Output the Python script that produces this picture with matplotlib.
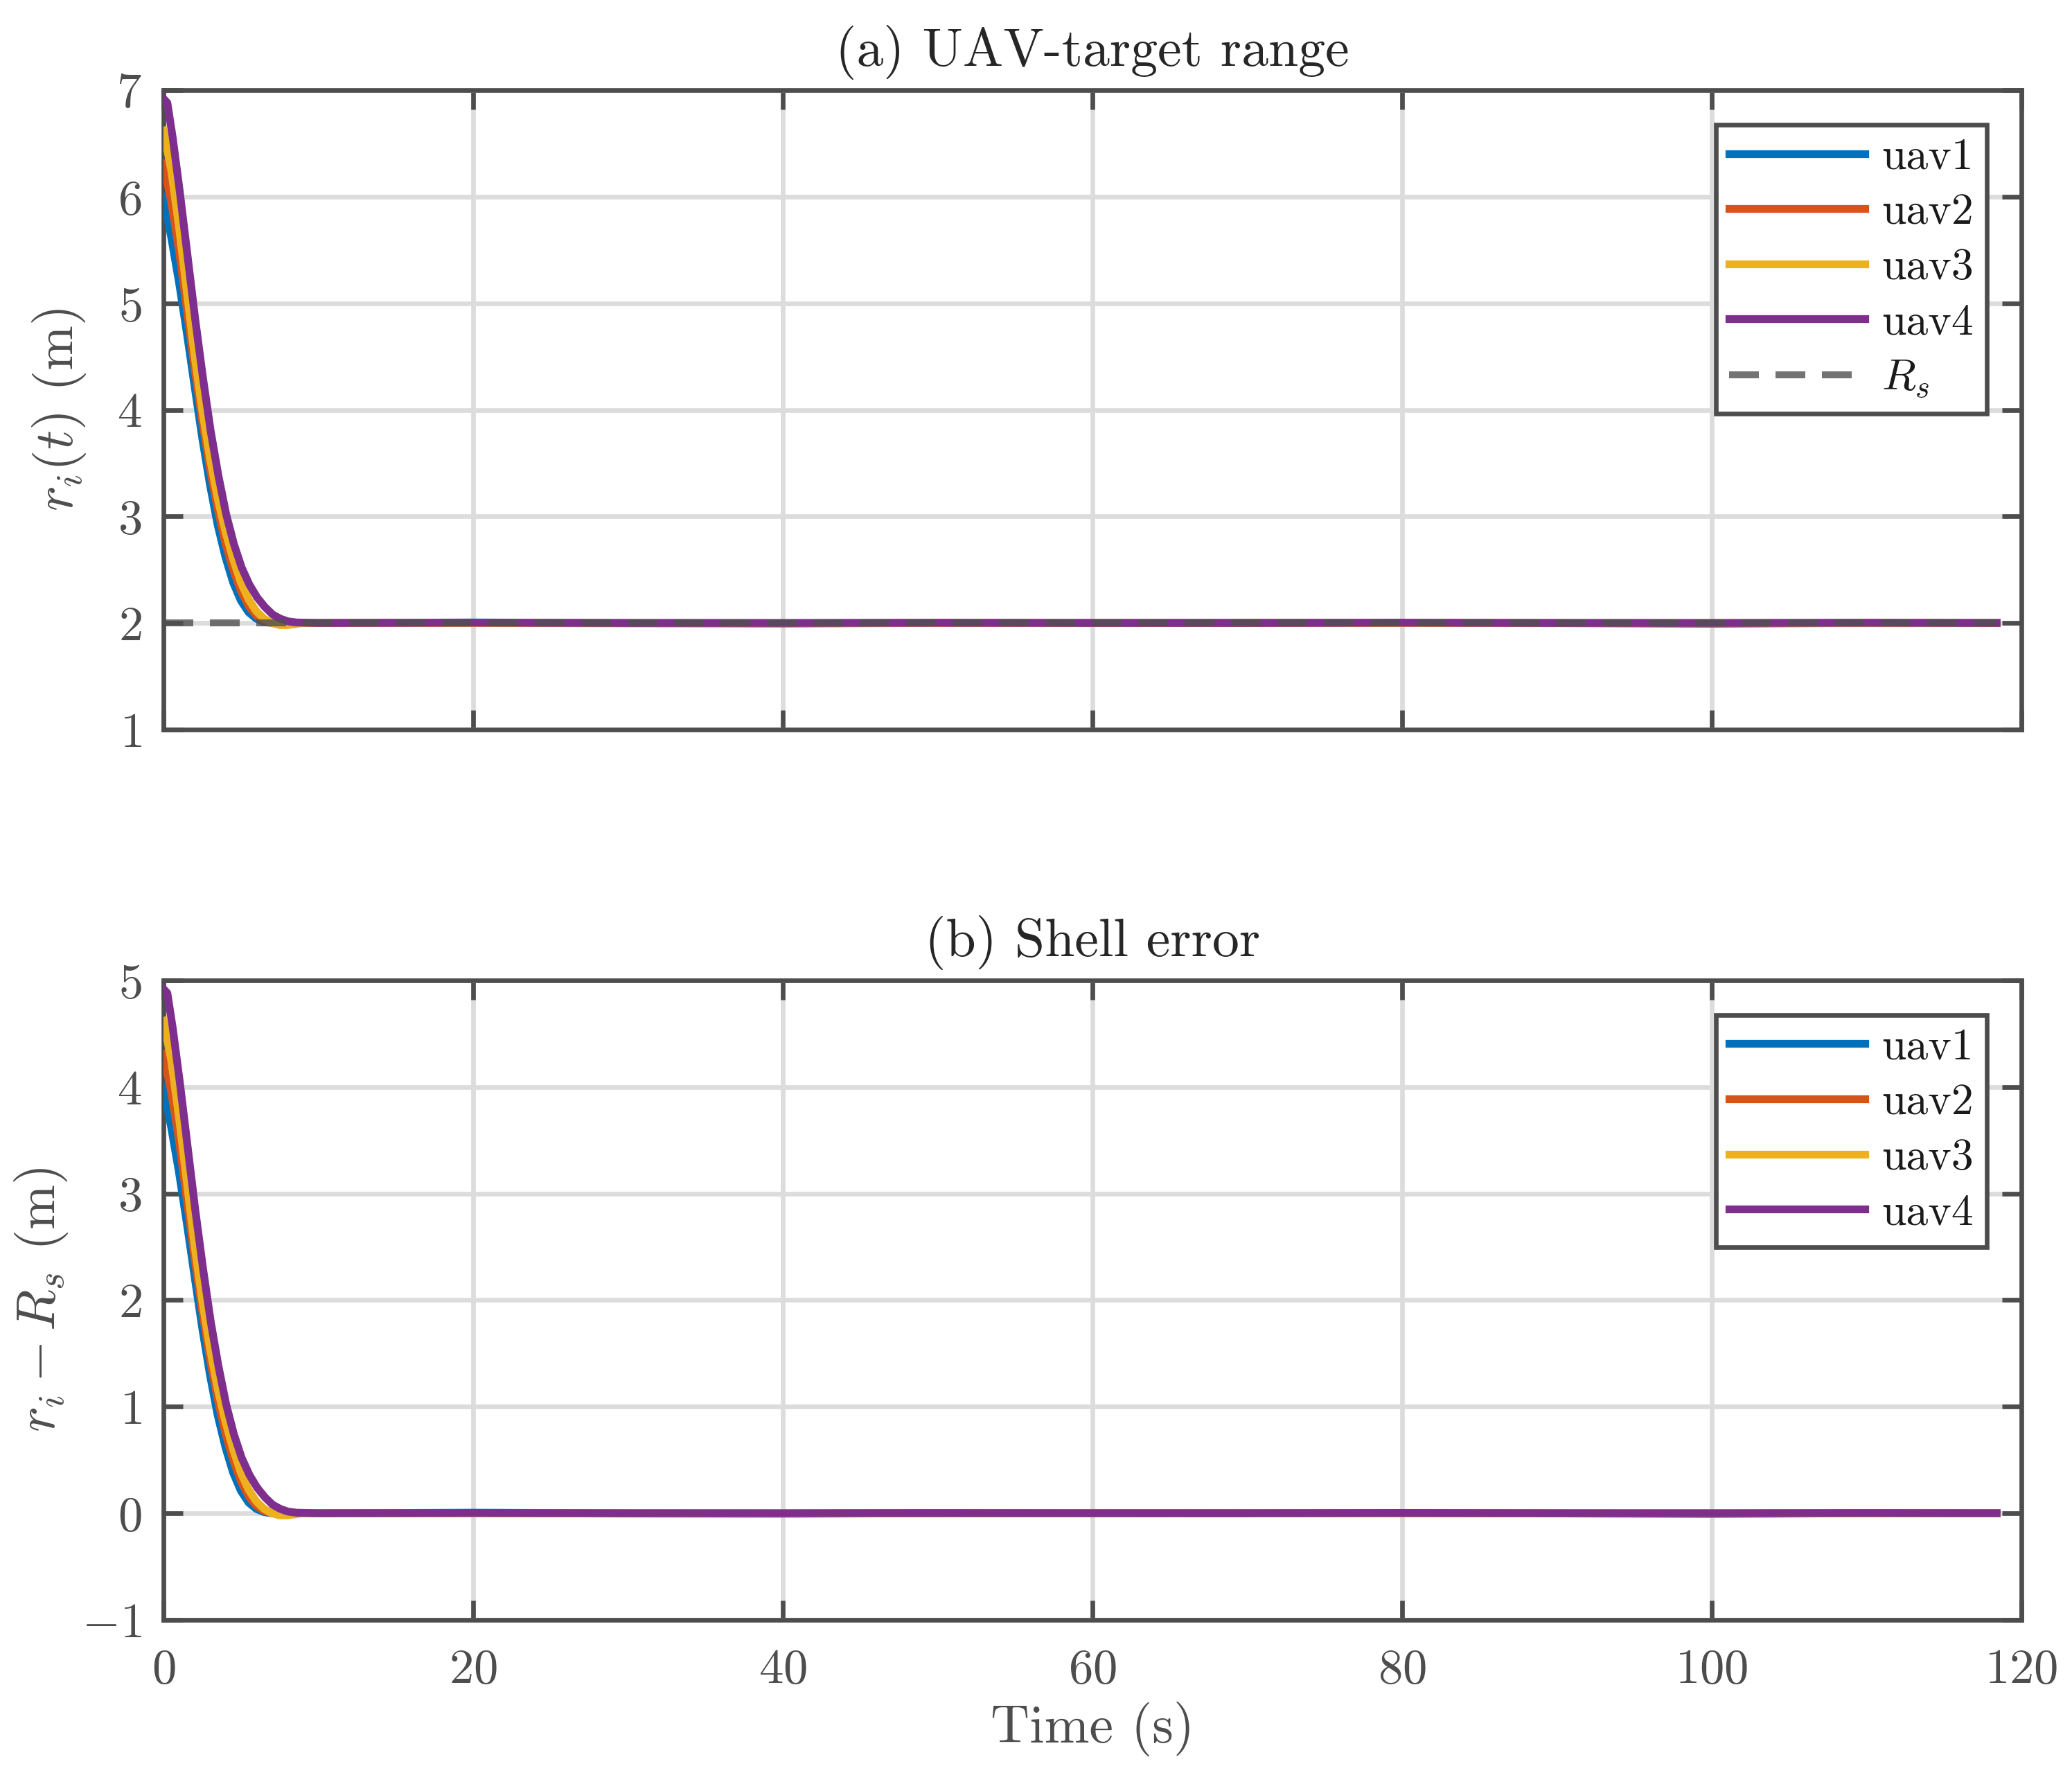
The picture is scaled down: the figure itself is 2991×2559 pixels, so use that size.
import matplotlib.pyplot as plt
import numpy as np

plt.rcParams['font.family'] = 'serif'
plt.rcParams['font.serif'] = ['cmr10']
plt.rcParams['mathtext.fontset'] = 'cm'
plt.rcParams['axes.formatter.use_mathtext'] = True

# Data
time = [0, 0.5, 1, 1.5, 2, 2.5, 3, 3.5, 4, 4.5, 5, 5.5, 6, 6.5, 7, 7.5, 8, 8.5, 9,
        10, 20, 30, 40, 50, 60, 70, 80, 90, 100, 110, 118.4]
r_uav1 = [6.00, 5.62, 5.20, 4.73, 4.23, 3.74, 3.30, 2.92, 2.62, 2.38, 2.21, 2.10, 2.04, 2.01, 2.00, 1.995, 2.00, 2.00, 2.00,
          2.00, 2.005, 2.00, 1.998, 2.00, 2.00, 2.003, 2.00, 2.00, 1.998, 2.00, 2.00]
r_uav2 = [6.31, 5.95, 5.50, 4.95, 4.40, 3.90, 3.45, 3.07, 2.75, 2.50, 2.30, 2.16, 2.07, 2.02, 2.00, 1.99, 1.995, 2.00, 2.00,
          2.00, 2.00, 1.997, 1.995, 2.00, 2.00, 2.00, 2.00, 1.998, 1.993, 2.00, 2.00]
r_uav3 = [6.62, 6.25, 5.72, 5.12, 4.52, 4.00, 3.55, 3.17, 2.86, 2.60, 2.38, 2.22, 2.11, 2.04, 2.00, 1.98, 1.98, 1.99, 2.00,
          2.00, 2.00, 2.00, 1.998, 2.00, 1.998, 2.00, 2.00, 2.00, 2.00, 1.998, 1.998]
r_uav4 = [6.92, 6.88, 6.55, 6.05, 5.45, 4.85, 4.30, 3.80, 3.38, 3.02, 2.74, 2.52, 2.36, 2.24, 2.15, 2.08, 2.04, 2.015, 2.005,
          2.00, 2.003, 2.00, 2.00, 2.002, 2.00, 2.00, 2.003, 2.00, 2.00, 2.002, 2.00]
t_uav4 = [0, 0.25, 0.6, 1.05, 1.55, 2.05, 2.55, 3.05, 3.55, 4.05, 4.55, 5.05, 5.55, 6.05, 6.55, 7.05, 7.55, 8.05, 8.6,
          10, 20, 30, 40, 50, 60, 70, 80, 90, 100, 110, 118.4]
R_S = 2.0
labels = ['uav1', 'uav2', 'uav3', 'uav4']
colors = ['#0072BD', '#D95319', '#EDB120', '#7E2F8E']

AX_COLOR = '#4d4d4d'
GRID_COLOR = '#dcdcdd'

fig = plt.figure(figsize=(2991 / 300, 2559 / 300), dpi=300)
ax1 = fig.add_axes([0.0789, 0.5885, 0.8967, 0.3607])
ax2 = fig.add_axes([0.0789, 0.0864, 0.8967, 0.3607])


def style(ax):
    ax.set_xlim(0, 120)
    ax.set_xticks(np.arange(0, 121, 20))
    ax.grid(True, color=GRID_COLOR, lw=1.6)
    ax.set_axisbelow(True)
    ax.tick_params(direction='in', length=6.8, width=1.6, color=AX_COLOR,
                   labelcolor=AX_COLOR, labelsize=17, top=True, right=True)
    ax.tick_params(axis='x', pad=10)
    ax.tick_params(axis='y', pad=7.5)
    for s in ax.spines.values():
        s.set_color(AX_COLOR)
        s.set_linewidth(1.6)


all_t = [time, time, time, t_uav4]
all_r = [r_uav1, r_uav2, r_uav3, r_uav4]

# (a) range
for t, r, c, lab in zip(all_t, all_r, colors, labels):
    ax1.plot(t, r, color=c, lw=2.7, label=lab, zorder=3)
ax1.plot([time[0], time[-1]], [R_S, R_S], color='#505050', alpha=0.8, lw=2.4,
         linestyle=(0, (4.3, 2.4)), label=r'$R_s$', zorder=4)
style(ax1)
ax1.set_ylim(1, 7)
ax1.tick_params(axis='x', labelbottom=False)
ax1.set_title('(a) UAV-target range', fontsize=18.7, color='#262626', pad=8.4)
ax1.set_ylabel(r'$r_i(t)$ (m)', fontsize=18.7, color=AX_COLOR, labelpad=10)

# (b) shell error
for t, r, c, lab in zip(all_t, all_r, colors, labels):
    ax2.plot(t, np.array(r) - R_S, color=c, lw=2.7, label=lab, zorder=3)
style(ax2)
ax2.set_ylim(-1, 5)
ax2.set_title('(b) Shell error', fontsize=18.7, color='#262626', pad=8.4)
ax2.set_ylabel(r'$r_i - R_s$ (m)', fontsize=18.7, color=AX_COLOR, labelpad=4)
ax2.set_xlabel('Time (s)', fontsize=18.7, color=AX_COLOR, labelpad=3)

for ax in (ax1, ax2):
    leg = ax.legend(loc='upper right', fontsize=15.3, fancybox=False, framealpha=1,
                    edgecolor=AX_COLOR, borderaxespad=0.78, handlelength=3.07,
                    handletextpad=0.39, borderpad=0.3, labelspacing=0.34)
    leg.get_frame().set_linewidth(1.6)
    for t in leg.get_texts():
        t.set_color('#1a1a1a')

fig.savefig('out.png', dpi=300)
